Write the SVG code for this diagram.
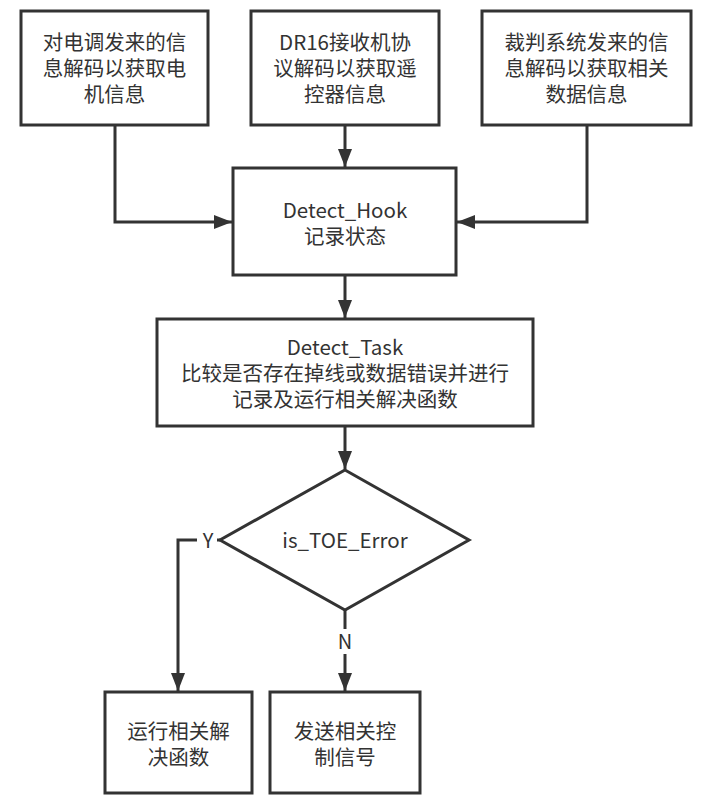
<svg xmlns="http://www.w3.org/2000/svg" width="709" height="802" viewBox="0 0 709 802">
  <style>
    .box { fill: #ffffff; stroke: #333333; stroke-width: 3; }
    .txt { font-family: "Noto Sans CJK SC", "Microsoft YaHei", sans-serif; font-size: 20.5px; fill: #333333; text-anchor: middle; }
    .edge { fill: none; stroke: #333333; stroke-width: 3; }
    .lbl { font-family: "Noto Sans CJK SC", sans-serif; font-size: 20px; fill: #333333; text-anchor: middle; }
  </style>
  <defs>
    <marker id="arrow" markerUnits="userSpaceOnUse" markerWidth="20" markerHeight="16" refX="18" refY="7" orient="auto">
      <path d="M0,0 L18,7 L0,14 Z" fill="#333333"/>
    </marker>
  </defs>
  <rect width="709" height="802" fill="#ffffff"/>

  <!-- connectors -->
  <g id="connectors">
    <polyline class="edge" points="115,125 115,222 232,222" marker-end="url(#arrow)"/>
    <line class="edge" x1="345" y1="125" x2="345" y2="167" marker-end="url(#arrow)"/>
    <polyline class="edge" points="587,125 587,222 457,222" marker-end="url(#arrow)"/>
    <line class="edge" x1="345" y1="275" x2="345" y2="318" marker-end="url(#arrow)"/>
    <line class="edge" x1="345" y1="426" x2="345" y2="469" marker-end="url(#arrow)"/>
    <polyline class="edge" points="220,540 178,540 178,691" marker-end="url(#arrow)"/>
    <line class="edge" x1="345" y1="610" x2="345" y2="691" marker-end="url(#arrow)"/>
    <rect x="197" y="528" width="20" height="24" fill="#ffffff"/>
    <text class="lbl" x="208" y="548">Y</text>
    <rect x="334" y="629" width="22" height="25" fill="#ffffff"/>
    <text class="lbl" x="345" y="649">N</text>
  </g>

  <g id="motor-decode">
    <rect class="box" x="21" y="11" width="187" height="114"/>
    <text class="txt" x="114.5" y="50">对电调发来的信</text>
    <text class="txt" x="114.5" y="76">息解码以获取电</text>
    <text class="txt" x="114.5" y="102">机信息</text>
  </g>

  <g id="dr16-decode">
    <rect class="box" x="251" y="11" width="188" height="114"/>
    <text class="txt" x="345" y="50">DR16接收机协</text>
    <text class="txt" x="345" y="76">议解码以获取遥</text>
    <text class="txt" x="345" y="102">控器信息</text>
  </g>

  <g id="referee-decode">
    <rect class="box" x="482" y="11" width="209" height="114"/>
    <text class="txt" x="586.5" y="50">裁判系统发来的信</text>
    <text class="txt" x="586.5" y="76">息解码以获取相关</text>
    <text class="txt" x="586.5" y="102">数据信息</text>
  </g>

  <g id="detect-hook">
    <rect class="box" x="233" y="168" width="223" height="107"/>
    <text class="txt" x="345" y="218">Detect_Hook</text>
    <text class="txt" x="345" y="244">记录状态</text>
  </g>

  <g id="detect-task">
    <rect class="box" x="157" y="319" width="376" height="107"/>
    <text class="txt" x="345" y="355">Detect_Task</text>
    <text class="txt" x="345" y="381">比较是否存在掉线或数据错误并进行</text>
    <text class="txt" x="345" y="407">记录及运行相关解决函数</text>
  </g>

  <g id="toe-check">
    <polygon class="box" points="345,470 469,540 345,610 220,540"/>
    <text class="txt" x="345" y="548">is_TOE_Error</text>
  </g>

  <g id="run-handler">
    <rect class="box" x="105" y="692" width="147" height="101"/>
    <text class="txt" x="178.5" y="739">运行相关解</text>
    <text class="txt" x="178.5" y="765">决函数</text>
  </g>

  <g id="send-control">
    <rect class="box" x="270" y="692" width="150" height="101"/>
    <text class="txt" x="345" y="739">发送相关控</text>
    <text class="txt" x="345" y="765">制信号</text>
  </g>
</svg>
